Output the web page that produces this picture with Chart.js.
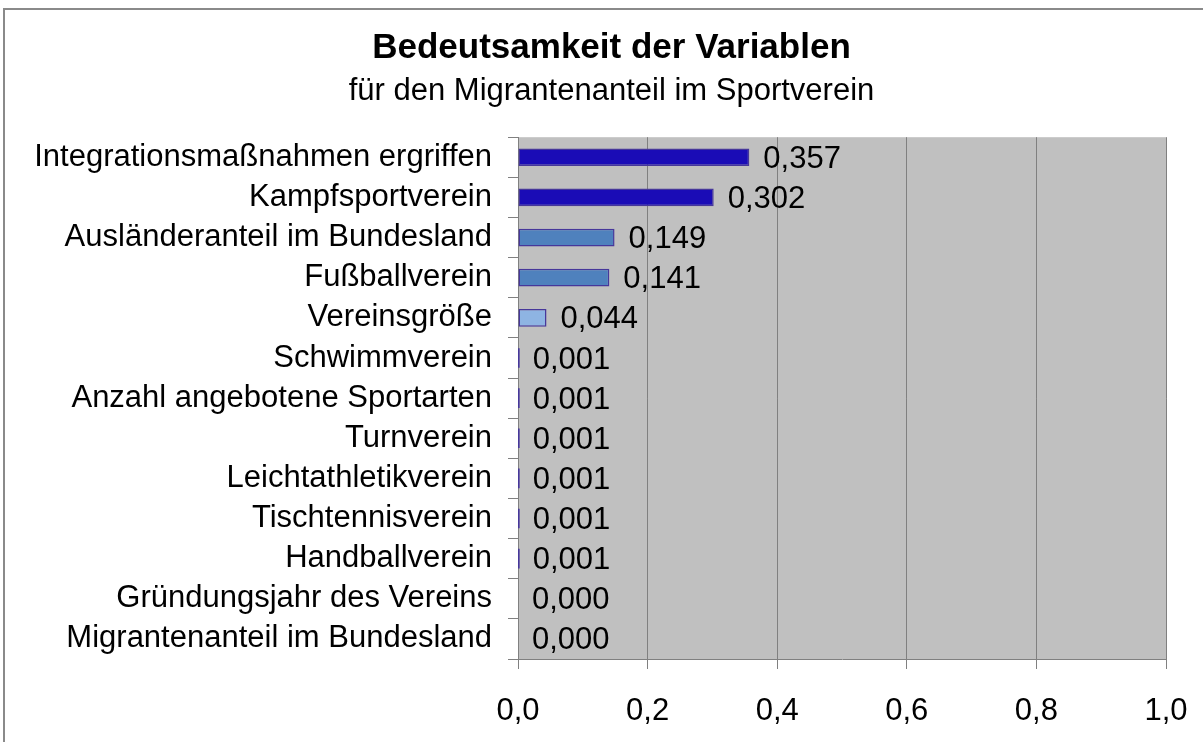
<!DOCTYPE html>
<html>
<head>
<meta charset="utf-8">
<script src="https://cdn.jsdelivr.net/npm/chart.js@4"></script>
<style>
  html, body { margin: 0; padding: 0; background: #fff; }
  #wrap { position: relative; width: 1203px; height: 742px; overflow: hidden; }
  #frame { position: absolute; left: 3px; top: 8px; width: 1400px; height: 900px;
           border-left: 2px solid #8a8a8a; border-top: 2px solid #8a8a8a; pointer-events: none; }
  canvas { position: absolute; left: 0; top: 0; }
</style>
</head>
<body>
<div id="wrap">
  <canvas id="chart" width="1203" height="742"></canvas>
  <div id="frame"></div>
</div>
<script>
// Kategorien (von oben nach unten)
const variablen = [
  'Integrationsmaßnahmen ergriffen',
  'Kampfsportverein',
  'Ausländeranteil im Bundesland',
  'Fußballverein',
  'Vereinsgröße',
  'Schwimmverein',
  'Anzahl angebotene Sportarten',
  'Turnverein',
  'Leichtathletikverein',
  'Tischtennisverein',
  'Handballverein',
  'Gründungsjahr des Vereins',
  'Migrantenanteil im Bundesland'
];
// Bedeutsamkeit
const werte = [0.357, 0.302, 0.149, 0.141, 0.044, 0.001, 0.001, 0.001, 0.001, 0.001, 0.001, 0.000, 0.000];
// Achsenbeschriftung
const xTicks = [0.0, 0.2, 0.4, 0.6, 0.8, 1.0];

const FONT = '"Liberation Sans", Arial, sans-serif';
const dunkelblau = '#1A0CB6';
const mittelblau = '#4F81BD';
const hellblau = '#8EB4E3';
const rand = '#46379A';

let farbe = (v) => {
  if (v >= 0.25) return dunkelblau;
  if (v >= 0.1) return mittelblau;
  if (v >= 0.01) return hellblau;
  if (v > 0) return rand;
  return 'rgba(0,0,0,0)';
};

const fmt = (v, d) => v.toFixed(d).replace('.', ',');

// grauer Hintergrund der Zeichnungsfläche
const plotHintergrund = {
  id: 'plotHintergrund',
  afterLayout(chart) {
    // Beschriftung der y-Achse darf in den linken Rand laufen
    chart.scales.y.left = 0;
  },
  beforeDraw(chart) {
    const { ctx, chartArea: a } = chart;
    ctx.save();
    ctx.fillStyle = '#C0C0C0';
    ctx.fillRect(a.left, a.top, a.right - a.left, a.bottom - a.top);
    ctx.restore();
  }
};

// Werte rechts neben den Balken
const wertLabels = {
  id: 'wertLabels',
  afterDatasetsDraw(chart) {
    const { ctx } = chart;
    const meta = chart.getDatasetMeta(0);
    ctx.save();
    ctx.font = '31px ' + FONT;
    ctx.fillStyle = '#000';
    ctx.textAlign = 'left';
    ctx.textBaseline = 'middle';
    meta.data.forEach((bar, i) => {
      ctx.fillText(fmt(werte[i], 3), bar.x + 14, bar.y + 2);
    });
    ctx.restore();
  }
};

const config = {
  type: 'bar',
  data: {
    labels: variablen,
    datasets: [{
      data: werte,
      backgroundColor: werte.map(farbe),
      borderColor: rand,
      borderWidth: werte.map(v => (v >= 0.01 ? 1.5 : 0)),
      inflateAmount: werte.map(v => (v > 0 && v < 0.01 ? 1 : 0)),
      borderSkipped: false,
      barPercentage: 0.44,
      categoryPercentage: 1
    }]
  },
  options: {
    indexAxis: 'y',
    responsive: false,
    animation: false,
    devicePixelRatio: 1,
    layout: { padding: { left: 57, right: 37, top: 0, bottom: 0 } },
    plugins: {
      legend: { display: false },
      tooltip: { enabled: false },
      title: {
        display: true,
        text: 'Bedeutsamkeit der Variablen',
        color: '#000',
        font: { family: FONT, size: 35, weight: 'bold' },
        padding: { top: 27, bottom: 4 }
      },
      subtitle: {
        display: true,
        text: 'für den Migrantenanteil im Sportverein',
        color: '#000',
        font: { family: FONT, size: 31 },
        padding: { top: 0, bottom: 27 }
      }
    },
    scales: {
      x: {
        min: 0,
        max: 1,
        afterBuildTicks: (axis) => { axis.ticks = xTicks.map(v => ({ value: v })); },
        afterFit: (axis) => {
          axis.height = 83;
          axis.paddingLeft = 0;
          axis.paddingRight = 0;
        },
        grid: { color: '#808080', lineWidth: 1, tickLength: 10, drawTicks: true },
        border: { color: '#808080', width: 1 },
        ticks: {
          color: '#000',
          padding: 24,
          font: { family: FONT, size: 31 },
          callback: (v) => fmt(v, 1)
        }
      },
      y: {
        afterFit: (axis) => { axis.width = 461; },
        grid: { drawOnChartArea: false, color: '#808080', tickLength: 10, offset: true },
        border: { color: '#808080', width: 1 },
        ticks: {
          color: '#000',
          padding: 16,
          autoSkip: false,
          font: { family: FONT, size: 31 }
        }
      }
    }
  },
  plugins: [plotHintergrund, wertLabels]
};

const chart = new Chart(document.getElementById('chart'), config);
</script>
</body>
</html>
